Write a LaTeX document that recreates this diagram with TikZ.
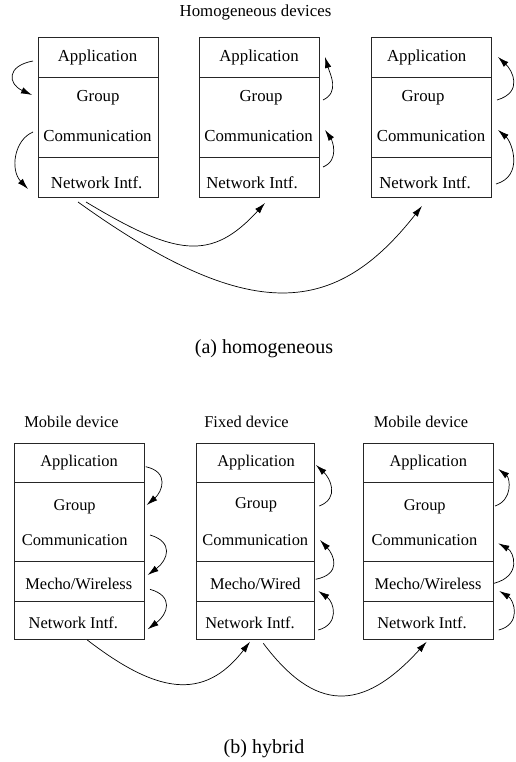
\documentclass[tikz,border=0pt]{standalone}
\usepackage{fontspec}
\setmainfont{Liberation Serif}
\usetikzlibrary{arrows.meta}
\begin{document}
\begin{tikzpicture}[x=1pt,y=-1pt,
  cell/.style={draw=black!85,line width=0.9pt,inner sep=0pt},
  txt/.style={anchor=base,inner sep=0pt,font=\fontsize{16.8}{20}\selectfont},
  htxt/.style={anchor=base,inner sep=0pt,font=\fontsize{16.4}{20}\selectfont},
  captxt/.style={anchor=base,inner sep=0pt,font=\fontsize{20}{24}\selectfont},
  arr/.style={line width=0.7pt,-{Latex[length=11pt,width=6.5pt]}}]
\useasboundingbox (0,0) rectangle (515,762);

% ---------------- (a) homogeneous ----------------
\node[txt] (htitle) at (255.5,17) {Homogeneous devices};
% box 1
\node[cell,minimum width=120pt,minimum height=40pt] (a1app) at (98,57) {};
\node[cell,minimum width=120pt,minimum height=80pt] (a1gc) at (98,117) {};
\node[cell,minimum width=120pt,minimum height=40pt] (a1net) at (98,177) {};
\node[txt] (a1t1) at (97.5,61.7) {Application};
\node[txt] (a1t2) at (98,101.7) {Group};
\node[txt] (a1t3) at (97.5,141.7) {Communication};
\node[txt] (a1t4) at (96.7,188.3) {Network Intf.};
% box 2
\node[cell,minimum width=120pt,minimum height=40pt] (a2app) at (259,57) {};
\node[cell,minimum width=120pt,minimum height=80pt] (a2gc) at (259,117) {};
\node[cell,minimum width=120pt,minimum height=40pt] (a2net) at (259,177) {};
\node[txt] (a2t1) at (259,61.7) {Application};
\node[txt] (a2t2) at (261,101.7) {Group};
\node[txt] (a2t3) at (258.5,141.7) {Communication};
\node[txt] (a2t4) at (252,188.3) {Network Intf.};
% box 3
\node[cell,minimum width=120pt,minimum height=40pt] (a3app) at (431,57) {};
\node[cell,minimum width=120pt,minimum height=80pt] (a3gc) at (431,117) {};
\node[cell,minimum width=120pt,minimum height=40pt] (a3net) at (431,177) {};
\node[txt] (a3t1) at (426.7,61.7) {Application};
\node[txt] (a3t2) at (423,101.7) {Group};
\node[txt] (a3t3) at (431,141.7) {Communication};
\node[txt] (a3t4) at (425,188.3) {Network Intf.};

% side arrows (a)
\coordinate (a1s1) at (33,61);   \coordinate (a1e1) at (32,95);
\coordinate (a1s2) at (33,132);  \coordinate (a1e2) at (28,189);
\coordinate (a2s1) at (323,100); \coordinate (a2e1) at (325,57);
\coordinate (a2s2) at (323,167); \coordinate (a2e2) at (325,130);
\coordinate (a3s1) at (497,100); \coordinate (a3e1) at (498,57);
\coordinate (a3s2) at (496,184); \coordinate (a3e2) at (498,130);
\draw[arr] (a1s1) .. controls (6,66) and (8,84) .. (a1e1);
\draw[arr] (a1s2) .. controls (14,140) and (10,170) .. (a1e2);
\draw[arr] (a2s1) .. controls (340,92) and (330,74) .. (a2e1);
\draw[arr] (a2s2) .. controls (340,160) and (332,140) .. (a2e2);
\draw[arr] (a3s1) .. controls (524,92) and (512,70) .. (a3e1);
\draw[arr] (a3s2) .. controls (524,176) and (512,142) .. (a3e2);

% long arrows (a)
\coordinate (aL1s) at (86,202);  \coordinate (aL1e) at (265,203);
\coordinate (aL2s) at (78,202);  \coordinate (aL2e) at (422,206);
\draw[arr] (aL1s) .. controls (176,256) and (211,262) .. (aL1e);
\draw[arr] (aL2s) .. controls (252,327) and (336,315.5) .. (aL2e);

\node[captxt] (capa) at (264,353) {(a) homogeneous};

% ---------------- (b) hybrid ----------------
\node[htxt] (bt1) at (71.5,427) {Mobile device};
\node[htxt] (bt2) at (246.5,427) {Fixed device};
\node[htxt] (bt3) at (421,427) {Mobile device};
% box 1
\node[cell,minimum width=130.3pt,minimum height=39.5pt] (b1app) at (79.2,462.75) {};
\node[cell,minimum width=130.3pt,minimum height=79.2pt] (b1gc) at (79.2,522.1) {};
\node[cell,minimum width=130.3pt,minimum height=39.3pt] (b1mec) at (79.2,581.35) {};
\node[cell,minimum width=130.3pt,minimum height=38.5pt] (b1net) at (79.2,620.25) {};
\node[htxt] (b1t1) at (79,466.7) {Application};
\node[htxt] (b1t2) at (74.7,510) {Group};
\node[htxt] (b1t3) at (74.7,545.7) {Communication};
\node[htxt] (b1t4) at (78.8,589.3) {Mecho/Wireless};
\node[htxt] (b1t5) at (73.3,628.3) {Network Intf.};
% box 2
\node[cell,minimum width=117.8pt,minimum height=39.5pt] (b2app) at (255.4,462.75) {};
\node[cell,minimum width=117.8pt,minimum height=79.2pt] (b2gc) at (255.4,522.1) {};
\node[cell,minimum width=117.8pt,minimum height=39.3pt] (b2mec) at (255.4,581.35) {};
\node[cell,minimum width=117.8pt,minimum height=38.5pt] (b2net) at (255.4,620.25) {};
\node[htxt] (b2t1) at (256,466.7) {Application};
\node[htxt] (b2t2) at (256,508) {Group};
\node[htxt] (b2t3) at (255.3,545.7) {Communication};
\node[htxt] (b2t4) at (255.3,589.3) {Mecho/Wired};
\node[htxt] (b2t5) at (250,628.3) {Network Intf.};
% box 3
\node[cell,minimum width=130.4pt,minimum height=39.5pt] (b3app) at (428.5,462.75) {};
\node[cell,minimum width=130.4pt,minimum height=79.2pt] (b3gc) at (428.5,522.1) {};
\node[cell,minimum width=130.4pt,minimum height=39.3pt] (b3mec) at (428.5,581.35) {};
\node[cell,minimum width=130.4pt,minimum height=38.5pt] (b3net) at (428.5,620.25) {};
\node[htxt] (b3t1) at (428.3,466.7) {Application};
\node[htxt] (b3t2) at (424.7,510) {Group};
\node[htxt] (b3t3) at (424.5,545.7) {Communication};
\node[htxt] (b3t4) at (428,589.3) {Mecho/Wireless};
\node[htxt] (b3t5) at (422,628.3) {Network Intf.};

% side arrows (b)
\coordinate (b1s1) at (145.7,466.7); \coordinate (b1e1) at (146.7,505);
\coordinate (b1s2) at (150,535);     \coordinate (b1e2) at (147.7,575);
\coordinate (b1s3) at (150,589.3);   \coordinate (b1e3) at (147.7,629.3);
\coordinate (b2s1) at (319.3,506);   \coordinate (b2e1) at (316,465);
\coordinate (b2s2) at (315.7,579.3); \coordinate (b2e2) at (320,540);
\coordinate (b2s3) at (318.3,630);   \coordinate (b2e3) at (318.3,591);
\coordinate (b3s1) at (495,506);     \coordinate (b3e1) at (498.3,469);
\coordinate (b3s2) at (494,583.3);   \coordinate (b3e2) at (498.3,543.3);
\coordinate (b3s3) at (498.7,630);   \coordinate (b3e3) at (499.3,591);
\draw[arr] (b1s1) .. controls (170,472) and (162,492) .. (b1e1);
\draw[arr] (b1s2) .. controls (174,542) and (168,560) .. (b1e2);
\draw[arr] (b1s3) .. controls (174,596) and (168,614) .. (b1e3);
\draw[arr] (b2s1) .. controls (340,498) and (330,478) .. (b2e1);
\draw[arr] (b2s2) .. controls (342,574) and (334,555) .. (b2e2);
\draw[arr] (b2s3) .. controls (340,624) and (334,602) .. (b2e3);
\draw[arr] (b3s1) .. controls (513,500) and (510,478) .. (b3e1);
\draw[arr] (b3s2) .. controls (522,576) and (514,552) .. (b3e2);
\draw[arr] (b3s3) .. controls (522,624) and (514,600) .. (b3e3);

% long arrows (b)
\coordinate (bL1s) at (87.3,640);   \coordinate (bL1e) at (250,641.7);
\coordinate (bL2s) at (263.3,643.3); \coordinate (bL2e) at (426.7,641.7);
\draw[arr] (bL1s) .. controls (155.5,692.5) and (203.3,702.4) .. (bL1e);
\draw[arr] (bL2s) .. controls (314.9,711.9) and (361.8,713.1) .. (bL2e);

\node[captxt] (capb) at (264,753) {(b) hybrid};
\end{tikzpicture}
\end{document}
